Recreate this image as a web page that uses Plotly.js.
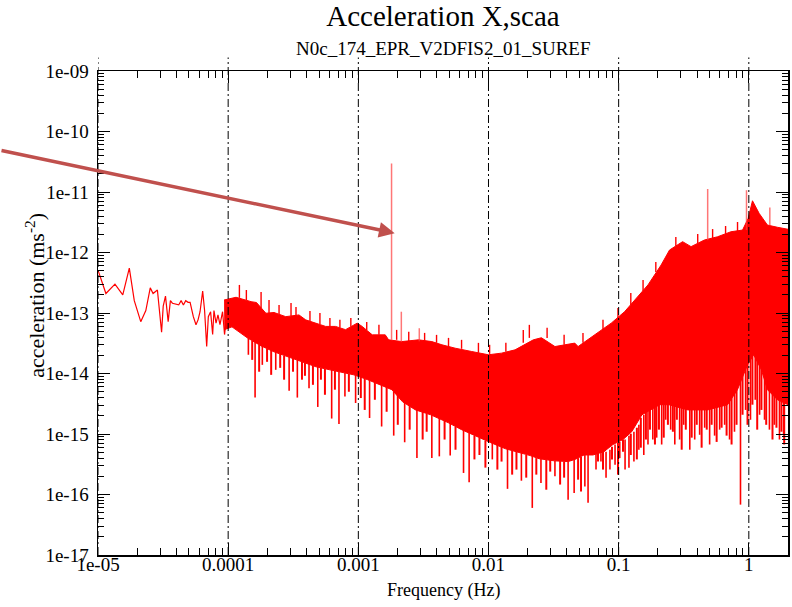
<!DOCTYPE html>
<html>
<head>
<meta charset="utf-8">
<script src="https://cdn.plot.ly/plotly-3.0.1.min.js"></script>
<style>html,body{margin:0;padding:0;background:#fff;}#chart{width:792px;height:607px;}</style>
</head>
<body>
<div id="chart"></div>
<script>
// ---- tick labels ----
const xTickVals = [1e-5, 1e-4, 1e-3, 1e-2, 1e-1, 1];
const xTickText = ['1e-05', '0.0001', '0.001', '0.01', '0.1', '1'];
const yTickVals = [1e-17, 1e-16, 1e-15, 1e-14, 1e-13, 1e-12, 1e-11, 1e-10, 1e-9];
const yTickText = ['1e-17', '1e-16', '1e-15', '1e-14', '1e-13', '1e-12', '1e-11', '1e-10', '1e-09'];

// ---- low-frequency part of the spectrum (single resolved line) ----
const lowF = [1.0e-5, 1.15e-5, 1.35e-5, 1.55e-5, 1.74e-5, 1.90e-5, 2.13e-5, 2.33e-5, 2.52e-5, 2.65e-5,
  2.86e-5, 3.08e-5, 3.17e-5, 3.30e-5, 3.46e-5, 3.52e-5, 3.60e-5, 3.73e-5, 3.95e-5, 4.17e-5,
  4.35e-5, 4.53e-5, 4.72e-5, 4.92e-5, 5.10e-5, 5.40e-5, 5.66e-5, 5.87e-5, 6.08e-5, 6.37e-5,
  6.59e-5, 6.84e-5, 7.04e-5, 7.33e-5, 7.60e-5, 7.78e-5, 8.07e-5, 8.35e-5, 8.65e-5, 9.06e-5,
  9.38e-5, 9.72e-5];
const lowV = [5.1e-13, 2.1e-13, 3.0e-13, 2.0e-13, 5.5e-13, 1.6e-13, 7.2e-14, 1.1e-13, 2.6e-13, 2.1e-13,
  2.4e-13, 4.8e-14, 1.3e-13, 1.9e-13, 7.2e-14, 9.9e-14, 1.6e-13, 1.45e-13, 1.4e-13, 1.36e-13,
  1.6e-13, 1.36e-13, 1.6e-13, 1.5e-13, 1.5e-13, 8.7e-14, 6.4e-14, 7.7e-14, 1.05e-13, 2.3e-13,
  1.1e-13, 2.8e-14, 8.7e-14, 1.05e-13, 4.4e-14, 1.1e-13, 6.8e-14, 9.3e-14, 6.4e-14, 1.05e-13,
  4.4e-14, 8.7e-14];

// ---- dense noise band: upper envelope ----
const upperF = [9.3e-5, 1.15e-4, 1.5e-4, 1.65e-4, 1.95e-4, 2.25e-4, 2.77e-4, 3.5e-4, 3.94e-4, 4.7e-4,
  5.61e-4, 6.68e-4, 7.98e-4, 9.8e-4, 1.07e-3, 1.28e-3, 1.61e-3, 1.71e-3, 2.16e-3, 2.9e-3,
  3.67e-3, 4.39e-3, 5.55e-3, 7.43e-3, 9.98e-3, 1.26e-2, 1.6e-2, 2.21e-2, 2.55e-2, 3.24e-2,
  4.6e-2, 4.88e-2, 6.55e-2, 8.77e-2, 0.111, 0.141, 0.168, 0.212, 0.246, 0.31,
  0.36, 0.456, 0.575, 0.728, 0.895, 0.989, 1.067, 1.2, 1.39, 1.66, 2.0];
const upperV = [1.64e-13, 1.82e-13, 1.54e-13, 1.49e-13, 9.9e-14, 1.02e-13, 8.7e-14, 9.3e-14, 7.7e-14, 6.8e-14,
  6.0e-14, 6.0e-14, 5.3e-14, 6.8e-14, 6.0e-14, 4.35e-14, 4.35e-14, 3.6e-14, 3.37e-14, 3.6e-14,
  3.37e-14, 2.98e-14, 2.62e-14, 2.31e-14, 2.04e-14, 2.17e-14, 2.46e-14, 3.6e-14, 3.9e-14, 2.79e-14,
  3.18e-14, 2.79e-14, 4.35e-14, 6.8e-14, 1.05e-13, 1.87e-13, 2.91e-13, 6.22e-13, 1.1e-12, 1.51e-12,
  1.25e-12, 1.61e-12, 1.82e-12, 2.2e-12, 2.35e-12, 3.67e-12, 7.16e-12, 4.44e-12, 2.84e-12, 2.61e-12, 2.42e-12];

// ---- dense noise band: lower (solid core) envelope ----
const lowerF = [9.33e-5, 1.07e-4, 1.4e-4, 1.79e-4, 2.25e-4, 2.84e-4, 3.32e-4, 4.04e-4, 4.73e-4, 6.05e-4,
  7.74e-4, 9.25e-4, 1.18e-3, 1.46e-3, 1.81e-3, 2.19e-3, 2.75e-3, 3.59e-3, 4.93e-3, 6.21e-3,
  7.26e-3, 1.04e-2, 1.35e-2, 1.75e-2, 2.09e-2, 2.45e-2, 3.2e-2, 4.09e-2, 4.62e-2, 5.42e-2,
  6.35e-2, 7.71e-2, 9.04e-2, 0.108, 0.126, 0.151, 0.177, 0.207, 0.243, 0.34,
  0.483, 0.687, 0.818, 0.977, 1.09, 1.25, 1.39, 1.66, 2.0];
const lowerV = [5.3e-14, 5.9e-14, 3.9e-14, 2.86e-14, 2.28e-14, 1.89e-14, 1.68e-14, 1.45e-14, 1.29e-14, 1.15e-14,
  1.03e-14, 9.5e-15, 7.9e-15, 6.5e-15, 5.4e-15, 3.4e-15, 2.5e-15, 2.08e-15, 1.53e-15, 1.18e-15,
  1.01e-15, 7.2e-16, 5.7e-16, 4.9e-16, 4.4e-16, 3.9e-16, 3.6e-16, 3.5e-16, 3.8e-16, 4.5e-16,
  4.5e-16, 5.1e-16, 6.7e-16, 8.1e-16, 1.09e-15, 2.08e-15, 2.5e-15, 3.05e-15, 3.05e-15, 2.5e-15,
  2.5e-15, 3.05e-15, 5.4e-15, 1.39e-14, 2.04e-14, 1.15e-14, 5.4e-15, 3.68e-15, 3.05e-15];

// ---- downward spikes below the band (deep ones) ----
const dipF = [1.43e-4, 1.61e-4, 1.83e-4, 2.32e-4, 2.94e-4, 3.40e-4, 4.18e-4, 4.88e-4, 6.24e-4, 7.10e-4,
  7.89e-4, 9.53e-4, 1.22e-3, 1.51e-3, 1.87e-3, 2.27e-3, 2.82e-3, 3.67e-3, 4.19e-3, 5.08e-3,
  6.43e-3, 7.10e-3, 1.07e-2, 1.40e-2, 1.79e-2, 2.17e-2, 2.53e-2, 3.24e-2, 4.09e-2, 4.55e-2,
  5.50e-2, 5.82e-2, 6.70e-2, 7.31e-2, 8.0e-2, 8.57e-2, 9.38e-2, 0.102, 0.112, 0.120,
  0.131, 0.143, 0.156, 0.168, 0.183, 0.196, 0.214, 0.230, 0.251, 0.270,
  0.294, 0.316, 0.352, 0.384, 0.419, 0.458, 0.500, 0.546, 0.597, 0.652,
  0.711, 0.776, 0.863, 0.944, 1.03, 1.12, 1.21, 1.32, 1.44, 1.57, 1.72, 1.85];
const dipTop = [3.9e-14, 3.33e-14, 2.86e-14, 2.28e-14, 1.89e-14, 1.68e-14, 1.45e-14, 1.29e-14, 1.15e-14, 1.07e-14,
  1.03e-14, 9.5e-15, 7.9e-15, 6.5e-15, 5.4e-15, 3.4e-15, 2.5e-15, 2.08e-15, 1.86e-15, 1.53e-15,
  1.18e-15, 1.05e-15, 7.2e-16, 5.7e-16, 4.9e-16, 4.4e-16, 3.9e-16, 3.6e-16, 3.5e-16, 3.8e-16,
  4.5e-16, 4.5e-16, 5.1e-16, 5.1e-16, 5.1e-16, 5.5e-16, 6.7e-16, 7.4e-16, 8.1e-16, 9.4e-16,
  1.09e-15, 1.42e-15, 2.08e-15, 2.5e-15, 3.05e-15, 3.68e-15, 4.45e-15, 5.4e-15, 6.5e-15, 6.5e-15,
  6.5e-15, 6.5e-15, 5.4e-15, 5.4e-15, 5.4e-15, 5.4e-15, 5.4e-15, 5.8e-15, 6.5e-15, 6.5e-15,
  6.5e-15, 7.9e-15, 1.15e-14, 1.68e-14, 2.04e-14, 2.98e-14, 2.46e-14, 1.68e-14, 9.5e-15, 7.9e-15, 6.5e-15, 5.4e-15];
const dipBottom = [2.04e-14, 4.0e-15, 1.39e-14, 1.15e-14, 5.2e-15, 4.0e-15, 5.7e-15, 2.8e-15, 1.8e-15, 1.46e-15,
  4.17e-15, 3.25e-15, 1.84e-15, 1.33e-15, 9.4e-16, 7.3e-16, 4.0e-16, 4.0e-16, 4.27e-16, 4.4e-16,
  2.27e-16, 1.59e-16, 3.8e-16, 1.24e-16, 1.69e-16, 6.0e-17, 1.55e-16, 2.0e-16, 8.2e-17, 1.06e-16,
  1.36e-16, 7.3e-17, 2.58e-16, 3.5e-16, 1.9e-16, 2.58e-16, 3.11e-16, 4.0e-16, 2.58e-16, 2.78e-16,
  3.5e-16, 5.5e-16, 4.5e-16, 6.7e-16, 8.1e-16, 8.7e-16, 6.7e-16, 1.72e-15, 1.18e-15, 6.7e-16,
  8.1e-16, 1.42e-15, 5.5e-16, 8.1e-16, 9.7e-16, 1.27e-15, 6.7e-16, 9.4e-16, 1.18e-15, 1.42e-15,
  8.1e-16, 1.09e-15, 6.8e-17, 2.5e-15, 1.72e-15, 3.68e-15, 2.08e-15, 1.72e-15, 1.18e-15, 1.42e-15, 8.1e-16, 9.7e-16];

// ---- shorter downward spikes (noise texture below the band) ----
const dip2F = [1.53e-4, 1.73e-4, 1.99e-4, 2.14e-4, 2.51e-4, 2.69e-4, 3.15e-4, 3.69e-4, 3.89e-4, 4.48e-4,
  5.16e-4, 5.54e-4, 6.61e-4, 8.46e-4, 1.045e-3, 1.12e-3, 1.34e-3, 1.65e-3, 2.01e-3, 2.48e-3,
  3.12e-3, 3.35e-3, 4.60e-3, 5.58e-3, 7.80e-3, 8.52e-3, 9.47e-3, 1.17e-2, 1.26e-2, 1.52e-2,
  1.64e-2, 1.95e-2, 2.33e-2, 2.78e-2, 2.98e-2, 3.55e-2, 3.81e-2, 4.88e-2, 5.14e-2,
  6.94e-2, 7.58e-2, 8.89e-2, 9.88e-2, 0.108, 0.124, 0.138, 0.148, 0.162, 0.174,
  0.190, 0.204, 0.222, 0.239, 0.261, 0.280, 0.305, 0.328, 0.364, 0.398,
  0.434, 0.475, 0.518, 0.566, 0.618, 0.675, 0.737, 0.805, 0.895, 0.977,
  1.066, 1.16, 1.25, 1.36, 1.52, 1.63, 1.78, 1.87];
const dip2Top = [3.46e-14, 2.98e-14, 2.56e-14, 2.46e-14, 2.11e-14, 1.96e-14, 1.82e-14, 1.56e-14, 1.50e-14, 1.34e-14,
  1.24e-14, 1.20e-14, 1.11e-14, 9.89e-15, 8.82e-15, 8.18e-15, 7.02e-15, 6.03e-15, 4.45e-15, 2.93e-15,
  2.33e-15, 2.16e-15, 1.66e-15, 1.32e-15, 9.4e-16, 8.7e-16, 7.75e-16, 6.7e-16, 6.17e-16, 5.3e-16,
  5.1e-16, 4.5e-16, 4.0e-16, 3.8e-16, 3.8e-16, 3.6e-16, 3.5e-16, 4.0e-16, 4.22e-16,
  5.1e-16, 5.3e-16, 6.17e-16, 7.2e-16, 8.1e-16, 1.01e-15, 1.27e-15, 1.86e-15, 2.33e-15, 2.93e-15,
  3.4e-15, 4.24e-15, 5.4e-15, 6.27e-15, 6.5e-15, 6.5e-15, 6.5e-15, 6.5e-15, 5.8e-15, 5.4e-15,
  5.4e-15, 5.4e-15, 5.4e-15, 5.8e-15, 6.27e-15, 6.5e-15, 6.76e-15, 8.49e-15, 1.24e-14, 1.82e-14,
  2.46e-14, 2.66e-14, 2.28e-14, 1.39e-14, 8.49e-15, 7.29e-15, 6.27e-15, 5.4e-15];
const dip2Bottom = [1.68e-14, 1.07e-14, 1.56e-14, 9.5e-15, 1.24e-14, 7.9e-15, 1.07e-14, 7.9e-15, 9.16e-15, 6.5e-15,
  7.9e-15, 4.45e-15, 5.4e-15, 4.99e-15, 3.93e-15, 2.5e-15, 3.68e-15, 2.33e-15, 1.42e-15, 1.18e-15,
  8.1e-16, 1.09e-15, 8.1e-16, 5.5e-16, 3.8e-16, 4.5e-16, 2.78e-16, 2.58e-16, 3.5e-16, 2.13e-16,
  2.58e-16, 1.9e-16, 2.13e-16, 1.2e-16, 2.39e-16, 1.46e-16, 1.9e-16, 1.76e-16, 1.12e-16,
  3.5e-16, 2.58e-16, 3.8e-16, 2.13e-16, 5.1e-16, 4.5e-16, 3.8e-16, 5.94e-16, 8.1e-16, 1.18e-15,
  6.7e-16, 1.18e-15, 8.7e-16, 1.42e-15, 1.09e-15, 1.72e-15, 5.5e-16, 1.18e-15, 8.7e-16, 1.42e-15,
  5.94e-16, 1.18e-15, 1.42e-15, 7.4e-16, 1.27e-15, 9.4e-16, 6.7e-16, 1.42e-15, 2.08e-15, 1.42e-15,
  3.05e-15, 1.18e-15, 2.5e-15, 1.42e-15, 8.1e-16, 1.27e-15, 1.09e-15, 6.7e-16];

// ---- short upward spikes (noise texture above the band) ----
const upF = [1.22e-4, 1.38e-4, 1.79e-4, 2.06e-4, 2.46e-4, 3.04e-4, 3.32e-4, 4.25e-4, 5.07e-4, 6.05e-4,
  7.22e-4, 8.76e-4, 1.16e-3, 1.44e-3, 1.97e-3, 2.44e-3, 3.23e-3, 3.99e-3, 4.93e-3, 6.21e-3,
  8.37e-3, 1.02e-2, 1.36e-2, 1.85e-2, 2.06e-2, 2.82e-2, 3.81e-2, 5.32e-2, 7.58e-2, 9.88e-2,
  0.124, 0.154, 0.193, 0.275, 0.405, 0.527, 0.663, 0.819];
const upBase = [1.78e-13, 1.64e-13, 1.21e-13, 1.0e-13, 9.66e-14, 8.96e-14, 8.96e-14, 7.41e-14, 6.61e-14, 5.9e-14,
  5.68e-14, 5.9e-14, 5.26e-14, 4.35e-14, 3.6e-14, 3.46e-14, 3.46e-14, 3.21e-14, 2.76e-14, 2.56e-14,
  2.2e-14, 2.11e-14, 2.28e-14, 3.21e-14, 3.88e-14, 3.88e-14, 2.98e-14, 3.21e-14, 5.26e-14, 8.3e-14,
  1.36e-13, 2.32e-13, 4.77e-13, 1.28e-12, 1.44e-12, 1.74e-12, 2.02e-12, 2.26e-12];
const upTop = [2.91e-13, 2.40e-13, 2.23e-13, 1.64e-13, 1.36e-13, 1.47e-13, 1.26e-13, 1.08e-13, 1.0e-13, 8.3e-14,
  7.7e-14, 8.3e-14, 7.13e-14, 6.37e-14, 5.26e-14, 4.88e-14, 4.69e-14, 4.35e-14, 3.88e-14, 3.6e-14,
  3.21e-14, 2.98e-14, 3.21e-14, 5.26e-14, 6.37e-14, 5.68e-14, 4.35e-14, 4.69e-14, 7.7e-14, 1.21e-13,
  2.15e-13, 3.52e-13, 6.97e-13, 1.80e-12, 2.02e-12, 2.44e-12, 2.74e-12, 3.19e-12];

// ---- isolated spectral lines ----
const peakF = [1.80e-3, 2.14e-3, 2.94e-3, 0.483, 0.96, 1.45];
const peakBase = [3.6e-14, 3.3e-14, 3.4e-14, 1.6e-12, 2.35e-12, 2.8e-12];
const peakTop = [2.96e-11, 1.05e-13, 5.6e-14, 1.12e-11, 1.07e-11, 5.57e-12];

// ---- build segment traces from the arrays ----
function segments(xs, y0, y1) {
  const x = [], y = [];
  for (let i = 0; i < xs.length; i++) { x.push(xs[i], xs[i], null); y.push(y0[i], y1[i], null); }
  return {x, y};
}
const dipSeg = segments(dipF, dipTop, dipBottom);
const dip2Seg = segments(dip2F, dip2Top, dip2Bottom);
const upSeg = segments(upF, upBase, upTop);
const peakSeg = segments(peakF, peakBase, peakTop);

const RED = '#ff0000';
const traces = [
  {x: lowerF, y: lowerV, type: 'scatter', mode: 'lines', line: {color: RED, width: 1}, hoverinfo: 'skip'},
  {x: upperF, y: upperV, type: 'scatter', mode: 'lines', fill: 'tonexty', fillcolor: RED,
   line: {color: RED, width: 1}, hoverinfo: 'skip'},
  {x: lowF, y: lowV, type: 'scatter', mode: 'lines', line: {color: RED, width: 1.2}, hoverinfo: 'skip'},
  {x: dipSeg.x, y: dipSeg.y, type: 'scatter', mode: 'lines', line: {color: RED, width: 1.6}, connectgaps: false, hoverinfo: 'skip'},
  {x: dip2Seg.x, y: dip2Seg.y, type: 'scatter', mode: 'lines', line: {color: RED, width: 2}, connectgaps: false, hoverinfo: 'skip'},
  {x: upSeg.x, y: upSeg.y, type: 'scatter', mode: 'lines', line: {color: RED, width: 1.4}, connectgaps: false, hoverinfo: 'skip'},
  {x: peakSeg.x, y: peakSeg.y, type: 'scatter', mode: 'lines', line: {color: 'rgba(255,60,60,0.7)', width: 1.5}, connectgaps: false, hoverinfo: 'skip'}
];

// minor tick positions (axis decoration)
const xMinor = [], yMinor = [];
for (let e = -5; e <= 0; e++) for (let k = 2; k <= 9; k++) xMinor.push(k * Math.pow(10, e));
for (let e = -17; e <= -10; e++) for (let k = 2; k <= 9; k++) yMinor.push(k * Math.pow(10, e));

const FONT = 'Liberation Serif, Times New Roman, serif';
const gridShapes = xTickVals.map(v => ({
  type: 'line', xref: 'x', yref: 'paper', x0: v, x1: v, y0: 0, y1: 1.028,
  line: {color: '#000', width: 1, dash: '8px,3px,2px,3px'}, layer: 'above'
}));

const axisCommon = {
  type: 'log', tickmode: 'array', ticks: 'inside', ticklen: 12, tickwidth: 1, tickcolor: '#000',
  showline: true, linewidth: 1.5, linecolor: '#000', mirror: 'ticks', showgrid: false, zeroline: false,
  tickfont: {family: FONT, size: 19, color: '#000'}
};

const layout = {
  width: 792, height: 607,
  margin: {l: 98, r: 4, t: 71, b: 52},
  paper_bgcolor: '#fff', plot_bgcolor: '#fff',
  showlegend: false,
  title: {text: 'Acceleration X,scaa', font: {family: FONT, size: 29, color: '#000'},
          x: 0.5, xref: 'paper', xanchor: 'center', y: 0.99, yref: 'container', yanchor: 'top'},
  xaxis: Object.assign({}, axisCommon, {
    range: [-5, Math.log10(2)], tickvals: xTickVals, ticktext: xTickText, ticklabelstandoff: -8,
    minor: {tickmode: 'array', tickvals: xMinor, ticks: 'inside', ticklen: 7, tickcolor: '#000', tickwidth: 1, showgrid: false}
  }),
  yaxis: Object.assign({}, axisCommon, {
    range: [-17, -9], tickvals: yTickVals, ticktext: yTickText, ticklabelstandoff: 4,
    minor: {tickmode: 'array', tickvals: yMinor, ticks: 'inside', ticklen: 6, tickcolor: '#000', tickwidth: 1, showgrid: false}
  }),
  shapes: gridShapes,
  annotations: [
    {text: 'N0c_174_EPR_V2DFIS2_01_SUREF', xref: 'paper', yref: 'paper', x: 0.5, y: 1, xanchor: 'center', yanchor: 'bottom',
     yshift: 10, showarrow: false, font: {family: FONT, size: 19, color: '#000'}},
    {text: 'Frequency (Hz)', xref: 'paper', yref: 'paper', x: 0.5, y: -0.0737, xanchor: 'center', yanchor: 'middle',
     showarrow: false, font: {family: FONT, size: 18, color: '#000'}},
    {text: 'acceleration (ms<sup>-2</sup>)', xref: 'paper', yref: 'paper', x: -0.0917, y: 0.537, xanchor: 'center', yanchor: 'middle',
     textangle: -90, showarrow: false, font: {family: FONT, size: 22, color: '#000'}},
    {text: '', xref: 'paper', yref: 'paper', x: 0.430, y: 0.665, ax: -395, ay: -83, showarrow: true,
     arrowhead: 2, arrowsize: 0.9, arrowwidth: 3.5, arrowcolor: '#c0504d', standoff: 0}
  ]
};

Plotly.newPlot('chart', traces, layout, {staticPlot: true, displayModeBar: false});
</script>
</body>
</html>
